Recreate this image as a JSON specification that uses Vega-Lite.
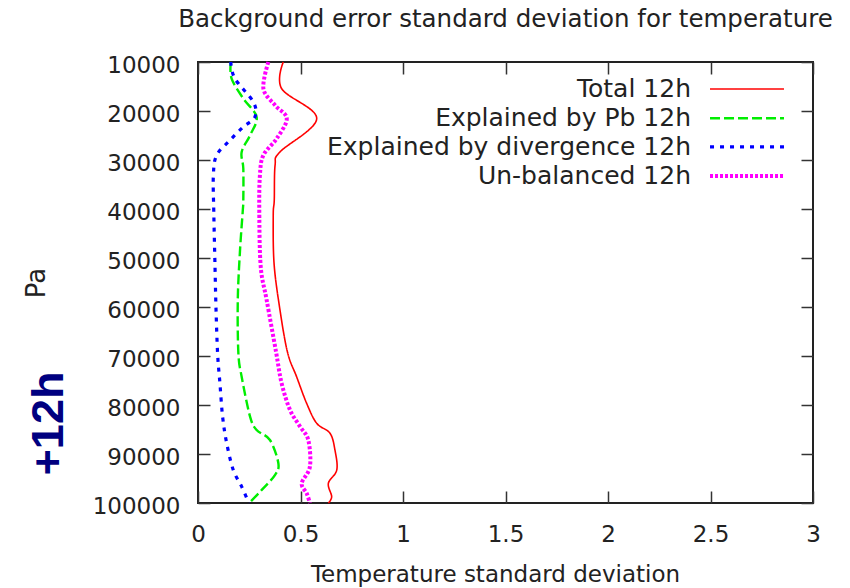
{
  "$schema": "https://vega.github.io/schema/vega-lite/v6.json",
  "width": 615,
  "height": 441,
  "autosize": {"type": "none"},
  "padding": {"left": 198, "top": 62, "right": 37, "bottom": 85},
  "background": "white",
  "title": {
    "text": "Background error standard deviation for temperature",
    "anchor": "middle",
    "frame": "group",
    "font": "DejaVu Sans",
    "fontSize": 24.5,
    "fontWeight": "normal",
    "color": "#222",
    "baseline": "alphabetic",
    "offset": 3
  },
  "data": {
    "values": [
      {"s": "Total 12h", "p": 10000, "v": 0.416},
      {"s": "Total 12h", "p": 15430, "v": 0.408},
      {"s": "Total 12h", "p": 21540, "v": 0.579},
      {"s": "Total 12h", "p": 28350, "v": 0.40},
      {"s": "Total 12h", "p": 31060, "v": 0.376},
      {"s": "Total 12h", "p": 38200, "v": 0.372},
      {"s": "Total 12h", "p": 41260, "v": 0.367},
      {"s": "Total 12h", "p": 51100, "v": 0.371},
      {"s": "Total 12h", "p": 60630, "v": 0.40},
      {"s": "Total 12h", "p": 69300, "v": 0.437},
      {"s": "Total 12h", "p": 74230, "v": 0.481},
      {"s": "Total 12h", "p": 79660, "v": 0.530},
      {"s": "Total 12h", "p": 83730, "v": 0.579},
      {"s": "Total 12h", "p": 85770, "v": 0.644},
      {"s": "Total 12h", "p": 89170, "v": 0.668},
      {"s": "Total 12h", "p": 93250, "v": 0.677},
      {"s": "Total 12h", "p": 95970, "v": 0.636},
      {"s": "Total 12h", "p": 98690, "v": 0.652},
      {"s": "Total 12h", "p": 100000, "v": 0.636},

      {"s": "Explained by Pb 12h", "p": 10000, "v": 0.16},
      {"s": "Explained by Pb 12h", "p": 13390, "v": 0.164},
      {"s": "Explained by Pb 12h", "p": 17460, "v": 0.221},
      {"s": "Explained by Pb 12h", "p": 21210, "v": 0.286},
      {"s": "Explained by Pb 12h", "p": 24950, "v": 0.254},
      {"s": "Explained by Pb 12h", "p": 28350, "v": 0.213},
      {"s": "Explained by Pb 12h", "p": 31740, "v": 0.221},
      {"s": "Explained by Pb 12h", "p": 38200, "v": 0.221},
      {"s": "Explained by Pb 12h", "p": 40590, "v": 0.218},
      {"s": "Explained by Pb 12h", "p": 48400, "v": 0.205},
      {"s": "Explained by Pb 12h", "p": 58600, "v": 0.194},
      {"s": "Explained by Pb 12h", "p": 69460, "v": 0.197},
      {"s": "Explained by Pb 12h", "p": 74230, "v": 0.213},
      {"s": "Explained by Pb 12h", "p": 82380, "v": 0.254},
      {"s": "Explained by Pb 12h", "p": 85100, "v": 0.286},
      {"s": "Explained by Pb 12h", "p": 87140, "v": 0.351},
      {"s": "Explained by Pb 12h", "p": 91890, "v": 0.392},
      {"s": "Explained by Pb 12h", "p": 94270, "v": 0.376},
      {"s": "Explained by Pb 12h", "p": 97330, "v": 0.311},
      {"s": "Explained by Pb 12h", "p": 100000, "v": 0.25},

      {"s": "Explained by divergence 12h", "p": 10000, "v": 0.16},
      {"s": "Explained by divergence 12h", "p": 13390, "v": 0.180},
      {"s": "Explained by divergence 12h", "p": 18160, "v": 0.270},
      {"s": "Explained by divergence 12h", "p": 21210, "v": 0.278},
      {"s": "Explained by divergence 12h", "p": 23250, "v": 0.221},
      {"s": "Explained by divergence 12h", "p": 25970, "v": 0.156},
      {"s": "Explained by divergence 12h", "p": 29020, "v": 0.091},
      {"s": "Explained by divergence 12h", "p": 33100, "v": 0.075},
      {"s": "Explained by divergence 12h", "p": 40590, "v": 0.077},
      {"s": "Explained by divergence 12h", "p": 51800, "v": 0.083},
      {"s": "Explained by divergence 12h", "p": 60630, "v": 0.088},
      {"s": "Explained by divergence 12h", "p": 69800, "v": 0.096},
      {"s": "Explained by divergence 12h", "p": 75580, "v": 0.107},
      {"s": "Explained by divergence 12h", "p": 82380, "v": 0.120},
      {"s": "Explained by divergence 12h", "p": 87810, "v": 0.140},
      {"s": "Explained by divergence 12h", "p": 93250, "v": 0.172},
      {"s": "Explained by divergence 12h", "p": 96660, "v": 0.213},
      {"s": "Explained by divergence 12h", "p": 100000, "v": 0.248},

      {"s": "Un-balanced 12h", "p": 10000, "v": 0.343},
      {"s": "Un-balanced 12h", "p": 15430, "v": 0.319},
      {"s": "Un-balanced 12h", "p": 18830, "v": 0.376},
      {"s": "Un-balanced 12h", "p": 21540, "v": 0.433},
      {"s": "Un-balanced 12h", "p": 25620, "v": 0.384},
      {"s": "Un-balanced 12h", "p": 29020, "v": 0.319},
      {"s": "Un-balanced 12h", "p": 33100, "v": 0.302},
      {"s": "Un-balanced 12h", "p": 40590, "v": 0.299},
      {"s": "Un-balanced 12h", "p": 51800, "v": 0.306},
      {"s": "Un-balanced 12h", "p": 58600, "v": 0.335},
      {"s": "Un-balanced 12h", "p": 69000, "v": 0.380},
      {"s": "Un-balanced 12h", "p": 75580, "v": 0.408},
      {"s": "Un-balanced 12h", "p": 81020, "v": 0.449},
      {"s": "Un-balanced 12h", "p": 84420, "v": 0.498},
      {"s": "Un-balanced 12h", "p": 87140, "v": 0.538},
      {"s": "Un-balanced 12h", "p": 92580, "v": 0.546},
      {"s": "Un-balanced 12h", "p": 95970, "v": 0.506},
      {"s": "Un-balanced 12h", "p": 98010, "v": 0.530},
      {"s": "Un-balanced 12h", "p": 100000, "v": 0.546}
    ]
  },
  "encoding": {
    "color": {
      "field": "s",
      "type": "nominal",
      "scale": {
        "domain": ["Total 12h", "Explained by Pb 12h", "Explained by divergence 12h", "Un-balanced 12h"],
        "range": ["#ff0000", "#00ee00", "#0000ff", "#ff00ff"]
      },
      "legend": {
        "title": null, "orient": "none", "legendX": 534.5, "legendY": 13.5, "columns": 1,
        "symbolType": "M-3,0H3", "symbolSize": 608, "labelAlign": "right", "labelOffset": -70.5,
        "labelFont": "DejaVu Sans", "labelFontSize": 25, "labelColor": "#222", "labelLimit": 600,
        "rowPadding": 1.7, "padding": 0
      }
    },
    "strokeDash": {
      "field": "s",
      "type": "nominal",
      "scale": {
        "domain": ["Total 12h", "Explained by Pb 12h", "Explained by divergence 12h", "Un-balanced 12h"],
        "range": [[1, 0], [10, 4], [4, 6], [3, 2]]
      },
      "legend": {
        "title": null, "orient": "none", "legendX": 534.5, "legendY": 13.5, "columns": 1,
        "symbolType": "M-3,0H3", "symbolSize": 608, "labelAlign": "right", "labelOffset": -70.5,
        "labelFont": "DejaVu Sans", "labelFontSize": 25, "labelColor": "#222", "labelLimit": 600,
        "rowPadding": 1.7, "padding": 0
      }
    },
    "strokeWidth": {
      "field": "s",
      "type": "nominal",
      "scale": {
        "domain": ["Total 12h", "Explained by Pb 12h", "Explained by divergence 12h", "Un-balanced 12h"],
        "range": [1.6, 4, 4, 3]
      },
      "legend": {
        "title": null, "orient": "none", "legendX": 534.5, "legendY": 13.5, "columns": 1,
        "symbolType": "M-3,0H3", "symbolSize": 608, "labelAlign": "right", "labelOffset": -70.5,
        "labelFont": "DejaVu Sans", "labelFontSize": 25, "labelColor": "#222", "labelLimit": 600,
        "rowPadding": 1.7, "padding": 0
      }
    },
    "order": {"field": "p", "type": "quantitative"}
  },
  "layer": [
    {
      "transform": [{"filter": "datum.s === 'Total 12h'"}],
      "mark": {"type": "line", "interpolate": "cardinal"},
      "encoding": {
        "x": {
          "field": "v", "type": "quantitative",
          "scale": {"domain": [0, 3], "nice": false, "zero": false},
          "axis": {
            "orient": "bottom", "values": [0, 0.5, 1, 1.5, 2, 2.5, 3], "format": "~g",
            "labelPadding": 32, "labelFlush": false, "labelOverlap": false,
            "title": "Temperature standard deviation", "titleFontSize": 23, "titlePadding": 17,
            "titleX": 297, "titleAlign": "center"
          }
        },
        "y": {
          "field": "p", "type": "quantitative",
          "scale": {"domain": [10000, 100000], "reverse": true, "nice": false, "zero": false},
          "axis": {
            "orient": "left",
            "values": [10000, 20000, 30000, 40000, 50000, 60000, 70000, 80000, 90000, 100000],
            "format": "d", "labelPadding": 30, "labelOffset": 3, "labelOverlap": false, "labelFlush": false,
            "title": "Pa", "titleFontSize": 26, "titlePadding": 43
          }
        }
      }
    },
    {
      "transform": [{"filter": "datum.s === 'Explained by Pb 12h'"}],
      "mark": {"type": "line", "interpolate": "cardinal"},
      "encoding": {
        "x": {
          "field": "v", "type": "quantitative",
          "scale": {"domain": [0, 3], "nice": false, "zero": false},
          "axis": {"orient": "top", "values": [0, 0.5, 1, 1.5, 2, 2.5, 3], "labels": false, "title": null}
        },
        "y": {
          "field": "p", "type": "quantitative",
          "scale": {"domain": [10000, 100000], "reverse": true, "nice": false, "zero": false},
          "axis": {
            "orient": "right",
            "values": [10000, 20000, 30000, 40000, 50000, 60000, 70000, 80000, 90000, 100000],
            "labels": false, "title": null
          }
        }
      }
    },
    {
      "transform": [{"filter": "datum.s === 'Explained by divergence 12h' || datum.s === 'Un-balanced 12h'"}],
      "mark": {"type": "line", "interpolate": "cardinal"},
      "encoding": {
        "x": {
          "field": "v", "type": "quantitative",
          "scale": {"domain": [0, 3], "nice": false, "zero": false},
          "axis": null
        },
        "y": {
          "field": "p", "type": "quantitative",
          "scale": {"domain": [10000, 100000], "reverse": true, "nice": false, "zero": false},
          "axis": {
            "orient": "left", "labels": false, "ticks": false, "domain": false,
            "title": "+12h", "titleFont": "Liberation Sans", "titleFontSize": 45,
            "titleFontWeight": "bold", "titleColor": "#000080", "titleAngle": -90,
            "titleX": -150, "titleY": 361, "titleAlign": "center", "titleBaseline": "middle"
          }
        }
      }
    }
  ],
  "resolve": {"axis": {"x": "independent", "y": "independent"}},
  "config": {
    "view": {"stroke": "#222", "strokeWidth": 2},
    "axis": {
      "grid": false, "domain": false, "tickSize": -12, "tickColor": "#333", "tickWidth": 1.5,
      "labelFont": "DejaVu Sans", "labelFontSize": 23, "labelColor": "#222",
      "titleFont": "DejaVu Sans", "titleFontSize": 24, "titleFontWeight": "normal", "titleColor": "#222"
    }
  }
}
